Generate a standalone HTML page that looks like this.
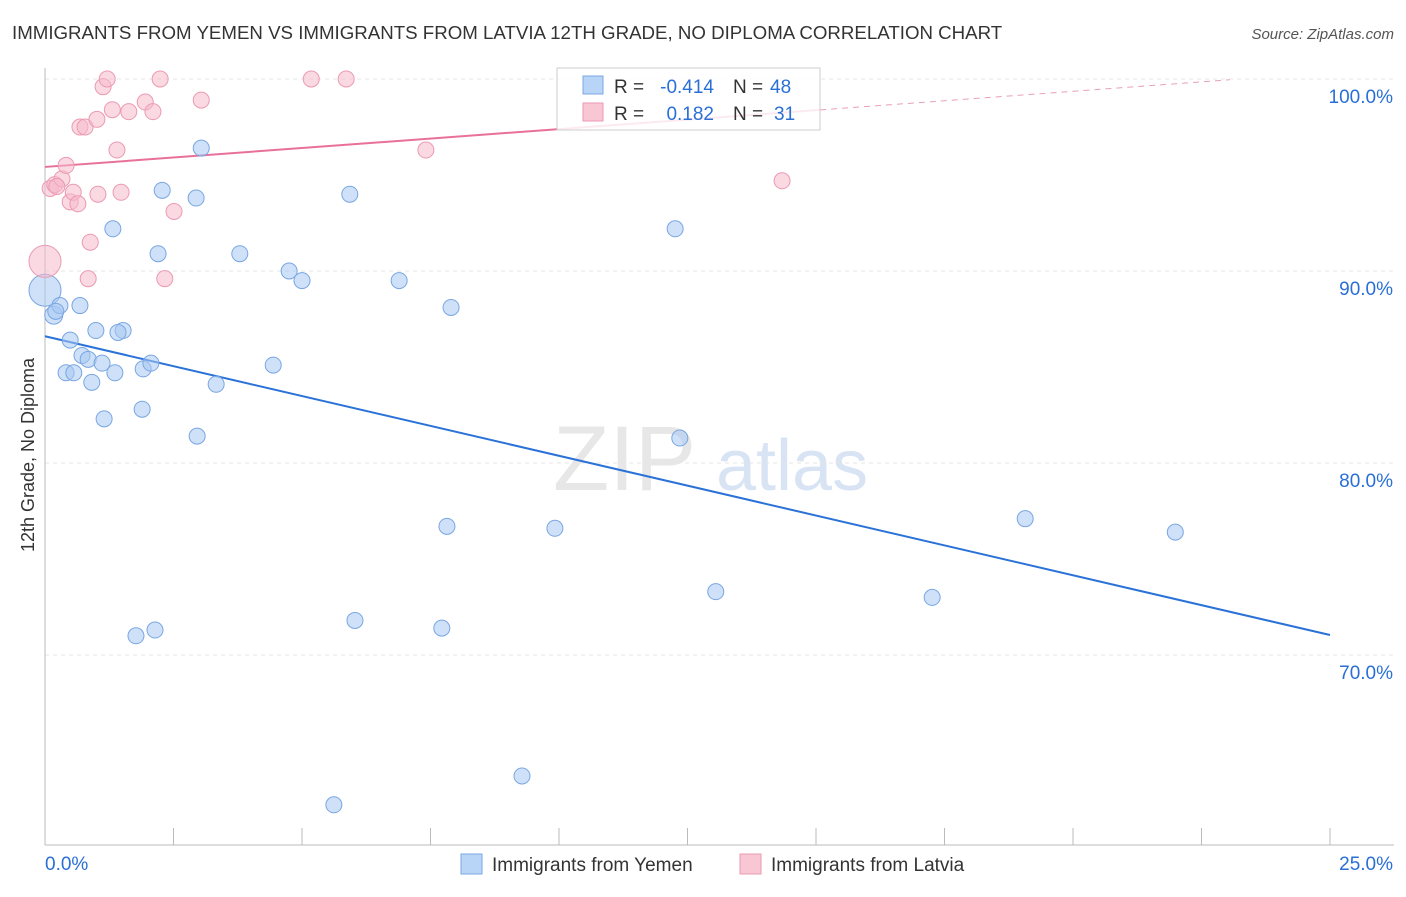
<!DOCTYPE html>
<html><head><meta charset="utf-8"><style>
body{margin:0;background:#fff;font-family:"Liberation Sans",sans-serif}
svg text{font-family:"Liberation Sans",sans-serif}
</style></head><body>
<svg id="chart" width="1406" height="892" xmlns="http://www.w3.org/2000/svg">
<text x="12" y="39" font-size="18.7" fill="#333">IMMIGRANTS FROM YEMEN VS IMMIGRANTS FROM LATVIA 12TH GRADE, NO DIPLOMA CORRELATION CHART</text>
<text x="1394" y="39" font-size="15" fill="#555" text-anchor="end" font-style="italic">Source: ZipAtlas.com</text>
<text x="553" y="490" font-size="92" fill="#ddd" font-family="Liberation Serif" opacity="0.7">ZIP</text>
<text x="716" y="490" font-size="72" fill="#c8daf0" opacity="0.7">atlas</text>
<text transform="translate(34,455) rotate(-90)" font-size="18" fill="#333" text-anchor="middle">12th Grade, No Diploma</text>
<g id="grid"></g><g id="axes"></g><g id="trends"></g><g id="points"></g>
<g>
<rect x="557" y="68" width="263" height="62" fill="rgba(255,255,255,0.85)" stroke="#ccc"/>
<rect x="583" y="76" width="20" height="18" fill="#b8d4f6" stroke="#7aa8e4"/>
<rect x="583" y="103" width="20" height="18" fill="#f9c6d4" stroke="#ec9ab2"/>
<text x="614" y="93" font-size="19" fill="#333">R =</text>
<text x="714" y="93" font-size="19" fill="#2a6fd6" text-anchor="end">-0.414</text>
<text x="733" y="93" font-size="19" fill="#333">N =</text>
<text x="770" y="93" font-size="19" fill="#2a6fd6">48</text>
<text x="614" y="120" font-size="19" fill="#333">R =</text>
<text x="714" y="120" font-size="19" fill="#2a6fd6" text-anchor="end">0.182</text>
<text x="733" y="120" font-size="19" fill="#333">N =</text>
<text x="774" y="120" font-size="19" fill="#2a6fd6">31</text>
</g>
<g>
<rect x="461" y="854" width="21" height="20" fill="#b8d4f6" stroke="#7aa8e4"/>
<text x="492" y="871" font-size="19" fill="#333">Immigrants from Yemen</text>
<rect x="740" y="854" width="21" height="20" fill="#f9c6d4" stroke="#ec9ab2"/>
<text x="771" y="871" font-size="19" fill="#333">Immigrants from Latvia</text>
</g>
</svg>
<script>
const yemenX=[0,0.17,0.29,0.21,0.68,0.49,0.99,1.52,1.42,0.72,0.84,1.11,0.41,0.56,0.91,1.36,1.91,2.06,1.15,1.89,3.33,2.96,4.44,1.32,2.20,2.28,2.94,3.04,3.79,4.75,5.00,5.93,6.89,7.90,12.26,12.35,7.82,9.92,19.07,21.99,13.05,17.26,1.77,2.14,6.03,7.72,9.28,5.62];
const yemenY=[89.0,87.7,88.2,87.9,88.2,86.4,86.9,86.9,86.8,85.6,85.4,85.2,84.7,84.7,84.2,84.7,84.9,85.2,82.3,82.8,84.1,81.4,85.1,92.2,90.9,94.2,93.8,96.4,90.9,90.0,89.5,94.0,89.5,88.1,92.2,81.3,76.7,76.6,77.1,76.4,73.3,73.0,71.0,71.3,71.8,71.4,63.7,62.2];
const latviaX=[0,0.10,0.19,0.33,0.41,0.49,0.55,0.64,0.68,0.78,1.01,1.03,1.13,1.21,1.31,1.40,1.48,1.63,1.95,2.10,2.24,2.51,2.33,3.04,0.88,0.84,5.18,5.86,7.41,14.34,0.23];
const latviaY=[90.5,94.3,94.5,94.8,95.5,93.6,94.1,93.5,97.5,97.5,97.9,94.0,99.6,100.0,98.4,96.3,94.1,98.3,98.8,98.3,100.0,93.1,89.6,98.9,91.5,89.6,100.0,100.0,96.3,94.7,94.4];
const yemenR=[16,9,8,8,8,8,8,8,8,8,8,8,8,8,8,8,8,8,8,8,8,8,8,8,8,8,8,8,8,8,8,8,8,8,8,8,8,8,8,8,8,8,8,8,8,8,8,8];
const latviaR=[16,8,8,8,8,8,8,8,8,8,8,8,8,8,8,8,8,8,8,8,8,8,8,8,8,8,8,8,8,8,8];
const blueTrend=[86.6,71.04];
const pinkTrend=[95.42,0.197];
const yTicks=[100,90,80,70];
const yTickLabels=["100.0%","90.0%","80.0%","70.0%"];
const xTickVals=[0,2.5,5,7.5,10,12.5,15,17.5,20,22.5,25];
const xLabels=["0.0%","25.0%"];
const NS="http://www.w3.org/2000/svg";
const X=v=>45+v*51.4, Y=v=>79+(100-v)*19.2;
function mk(tag,attrs,parent){const e=document.createElementNS(NS,tag);for(const k in attrs)e.setAttribute(k,attrs[k]);document.getElementById(parent).appendChild(e);return e;}
yTicks.forEach((t,i)=>{
 const l=mk('line',{x1:45,x2:1394,y1:Y(t),y2:Y(t),stroke:'#e4e4e4','stroke-dasharray':'4,4'},'grid');
 
 
 const tx=mk('text',{x:1393,y:Y(t)+24,'font-size':19,fill:'#2a6fd6','text-anchor':'end'},'grid');tx.textContent=yTickLabels[i];
 
 
});
const ax=mk('line',{x1:45,x2:45,y1:68,y2:845,stroke:'#bbb'},'axes');


const bx=mk('line',{x1:45,x2:1394,y1:845,y2:845,stroke:'#bbb'},'axes');


xTickVals.forEach(v=>{const t=mk('line',{x1:X(v),x2:X(v),y1:828,y2:845,stroke:'#bbb'},'axes');
 
 });
const l0=mk('text',{x:45,y:870,'font-size':19,fill:'#2a6fd6'},'axes');l0.textContent=xLabels[0];


const l1=mk('text',{x:1393,y:870,'font-size':19,fill:'#2a6fd6','text-anchor':'end'},'axes');l1.textContent=xLabels[1];


yemenX.forEach((x,i)=>{const c=mk('circle',{cx:X(x),cy:Y(yemenY[i]),r:yemenR[i],fill:'rgba(168,200,242,0.55)',stroke:'#79a6e2','stroke-width':1},'points');
 
 });
latviaX.forEach((x,i)=>{const c=mk('circle',{cx:X(x),cy:Y(latviaY[i]),r:latviaR[i],fill:'rgba(246,186,204,0.55)',stroke:'#eb9ab2','stroke-width':1},'points');
 
 });
const bt=mk('line',{x1:X(0),y1:Y(blueTrend[0]),x2:X(25),y2:Y(blueTrend[1]),stroke:'#2a72d8','stroke-width':2},'trends');


const pt=mk('line',{x1:X(0),y1:Y(pinkTrend[0]),x2:X(15.08),y2:Y(pinkTrend[0]+pinkTrend[1]*15.08),stroke:'#e8709a','stroke-width':2},'trends');


const pd=mk('line',{x1:X(15.08),y1:Y(pinkTrend[0]+pinkTrend[1]*15.08),x2:X(23.05),y2:Y(pinkTrend[0]+pinkTrend[1]*23.05),stroke:'#e8a0b8','stroke-width':1,'stroke-dasharray':'6,5'},'trends');


</script>
</body></html>
